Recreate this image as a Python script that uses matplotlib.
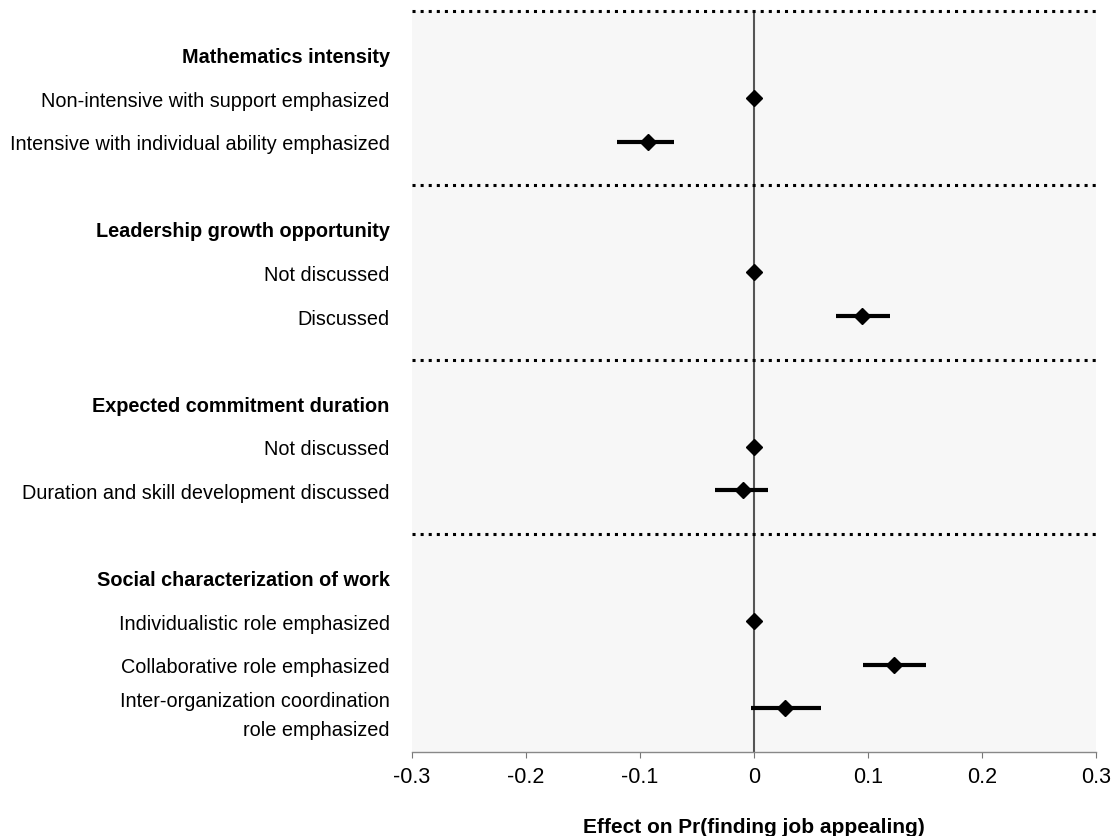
import matplotlib
matplotlib.use('Agg')
import matplotlib.pyplot as plt

plt.rcParams['font.family'] = ['Liberation Sans', 'DejaVu Sans']

# groups: heading, then levels with (estimate, ci low, ci high)
headings = ['Mathematics intensity', 'Leadership growth opportunity',
            'Expected commitment duration', 'Social characterization of work']
levels = [
    ['Non-intensive with support emphasized', 'Intensive with individual ability emphasized'],
    ['Not discussed', 'Discussed'],
    ['Not discussed', 'Duration and skill development discussed'],
    ['Individualistic role emphasized', 'Collaborative role emphasized',
     'Inter-organization coordination\nrole emphasized'],
]
estimates = [[0.0, -0.093], [0.0, 0.095], [0.0, -0.010], [0.0, 0.123, 0.027]]
ci_low = [[None, -0.120], [None, 0.072], [None, -0.034], [None, 0.096, -0.003]]
ci_high = [[None, -0.070], [None, 0.119], [None, 0.012], [None, 0.151, 0.059]]

fig = plt.figure(figsize=(11.13, 8.37), dpi=100)
ax = fig.add_axes([0.3702, 0.1004, 0.6145, 0.8853])
ax.set_facecolor('#f7f7f7')

ytick_pos, ytick_lab, bold = [], [], []
sep_lines = []
y = 0
for g, head in enumerate(headings):
    if g > 0:
        y += 1
    sep_lines.append(y)
    y += 1
    ytick_pos.append(y); ytick_lab.append(head); bold.append(True)
    for i, lab in enumerate(levels[g]):
        y += 1
        ytick_pos.append(y); ytick_lab.append(lab); bold.append(False)
        est = estimates[g][i]
        if ci_low[g][i] is not None:
            ax.plot([ci_low[g][i], ci_high[g][i]], [y, y], color='black', lw=3,
                    solid_capstyle='butt', zorder=3)
        ax.plot(est, y, marker='D', color='black', markersize=8.5, zorder=4)

for s in sep_lines:
    ax.axhline(s, color='black', linestyle=':', lw=2.2, clip_on=False, zorder=2)

ax.axvline(0, color='#555555', lw=1.5, zorder=1)

ax.set_xlim(-0.3, 0.3)
ax.set_ylim(17, 0)
ax.set_xticks([-0.3, -0.2, -0.1, 0, 0.1, 0.2, 0.3])
ax.set_xticklabels(['-0.3', '-0.2', '-0.1', '0', '0.1', '0.2', '0.3'], fontsize=15.5)
ax.set_yticks(ytick_pos)
ax.set_yticklabels(ytick_lab, fontsize=14.3)
for t, b in zip(ax.get_yticklabels(), bold):
    if b:
        t.set_fontweight('bold')
    t.set_multialignment('right')
    t.set_linespacing(1.65)
ax.tick_params(axis='y', length=0, pad=16)
ax.tick_params(axis='x', length=4, color='#777777', pad=6)

for side in ['left', 'right', 'top']:
    ax.spines[side].set_visible(False)
ax.spines['bottom'].set_color('#888888')
ax.spines['bottom'].set_linewidth(1)

ax.set_xlabel('Effect on Pr(finding job appealing)', fontsize=15, fontweight='bold', labelpad=22)

fig.savefig('out.png', dpi=100, facecolor='white')
